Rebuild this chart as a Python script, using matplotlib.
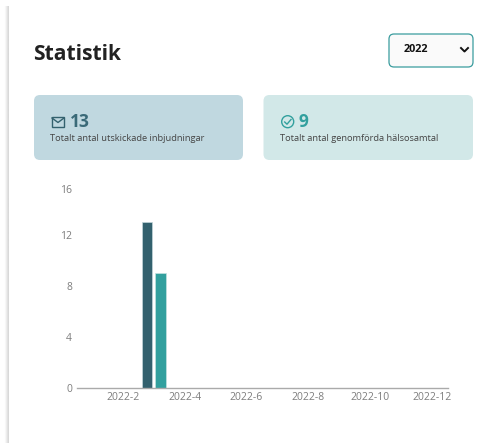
import numpy as np
import matplotlib
matplotlib.use("Agg")
import matplotlib.pyplot as plt
from matplotlib.patches import FancyBboxPatch, Rectangle, Circle
from matplotlib.transforms import ScaledTranslation

months = ["2022-%d" % m for m in range(1, 13)]
invitations = [0, 0, 13, 0, 0, 0, 0, 0, 0, 0, 0, 0]
conversations = [0, 0, 9, 0, 0, 0, 0, 0, 0, 0, 0, 0]
y_ticks = [0, 4, 8, 12, 16]

title = "Statistik"
year = "2022"
total_invitations = "13"
total_conversations = "9"
invitations_label = "Totalt antal utskickade inbjudningar"
conversations_label = "Totalt antal genomförda hälsosamtal"

DARK = "#33616e"
TEAL = "#32a09e"

W, H = 488, 443
plt.rcParams["font.family"] = ["Open Sans", "DejaVu Sans"]
fig = plt.figure(figsize=(W / 100, H / 100), dpi=100, facecolor="white")

# overlay in pixel coordinates for the page parts around the chart
page = fig.add_axes([0, 0, 1, 1])
page.set_xlim(0, W)
page.set_ylim(H, 0)
page.axis("off")

# page shadow down the left side
shadow = np.array([[1, 0.97, 0.93, 0.89, 0.85]])
page.imshow(shadow, extent=[4, 9, H, 6], cmap="gray", vmin=0, vmax=1, aspect="auto", interpolation="bilinear")
page.set_xlim(0, W)
page.set_ylim(H, 0)


def box(x0, y0, x1, y1, face, edge="none", lw=0, r=6):
    page.add_patch(FancyBboxPatch((x0 + r, y0 + r), x1 - x0 - 2 * r, y1 - y0 - 2 * r,
                                  boxstyle="round,pad=%d,rounding_size=%d" % (r, r),
                                  fc=face, ec=edge, lw=lw))


page.text(33.5, 54.5, title, fontsize=15.1, fontweight="bold", color="#222222", va="center")

# year dropdown
box(389, 34, 473, 67, "#fafafa", "#3a9c9e", 0.9, r=5)
page.text(403.5, 49.5, year, fontsize=7.8, fontweight="bold", color="#111111", va="center")
page.plot([461, 464.5, 468], [48, 51.5, 48], color="#111111", lw=1.4)

# cards
box(34, 95, 243, 160, "#c0d8e0")
box(263.5, 95, 473, 160, "#d2e8e8")

page.text(69.5, 122, total_invitations, fontsize=12.5, fontweight="bold", color="#3a6a78", va="center")
page.text(50.5, 138.2, invitations_label, fontsize=6.65, color="#444444", va="center")
page.add_patch(Rectangle((52, 117), 12, 9.5, fc="none", ec="#33616e", lw=1.0))
page.plot([52, 58, 64], [118, 122.5, 118], color="#33616e", lw=1.0)

page.text(298.5, 122, total_conversations, fontsize=12.5, fontweight="bold", color="#32a09e", va="center")
page.text(280, 138.2, conversations_label, fontsize=6.65, color="#444444", va="center")
page.add_patch(Circle((287.7, 121.7), 6, fc="none", ec="#32a09e", lw=1.0))
page.plot([284.7, 287, 291], [122, 124.2, 119.5], color="#32a09e", lw=1.0)

# chart
ax = fig.add_axes([76.5 / W, (H - 388) / H, 371 / W, 204 / H], facecolor="none")
x = np.arange(1, 13)
ax.bar(x - 0.217, invitations, width=0.346, color=DARK, edgecolor="#c4d6da", linewidth=0.5)
ax.bar(x + 0.217, conversations, width=0.346, color=TEAL, edgecolor="#c4e2e0", linewidth=0.5)
ax.set_xlim(0.5, 12.5)
ax.set_ylim(0, 16)
ax.set_xticks(x[1::2])
ax.set_xticklabels(months[1::2])
ax.set_yticks(y_ticks)
for s in ["top", "right", "left"]:
    ax.spines[s].set_visible(False)
ax.spines["bottom"].set_color("#aaaaaa")
ax.spines["bottom"].set_linewidth(1)
ax.tick_params(axis="both", length=0, labelsize=7.5, labelcolor="#7d7d7d")
ax.tick_params(axis="x", pad=3)
ax.tick_params(axis="y", pad=3.2)

# top label sits a little below its real position in the original
top = ax.get_yticklabels()[-1]
top.set_transform(top.get_transform() + ScaledTranslation(0, -5 / 100, fig.dpi_scale_trans))

fig.savefig("out.png", dpi=100)
